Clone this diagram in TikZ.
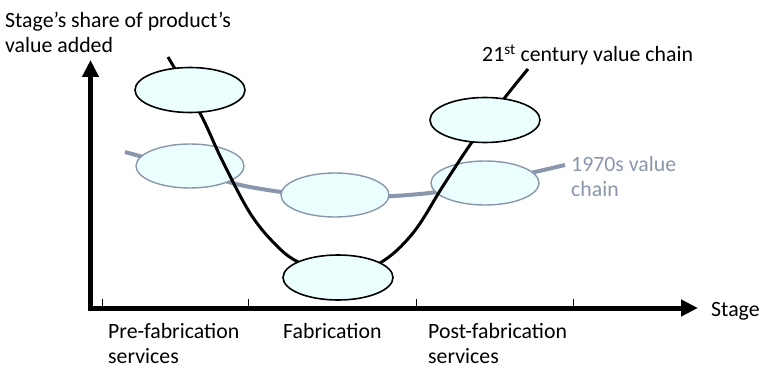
\documentclass[tikz,border=0pt]{standalone}
\usepackage{fontspec}
\setmainfont{Carlito}
\usetikzlibrary{arrows.meta,shapes.geometric}
\definecolor{greyblue}{RGB}{137,150,172}
\definecolor{lightcyan}{RGB}{236,255,255}
\tikzset{
  axis/.style={line width=5pt, line join=miter, {Triangle[length=17pt,width=16pt]}-{Triangle[length=17pt,width=16pt]}},
  tickmark/.style={line width=1pt},
  newell/.style={ellipse, draw=black, line width=1.6pt, fill=lightcyan, minimum width=110pt, minimum height=45pt, inner sep=0pt},
  oldell/.style={ellipse, draw=greyblue, line width=1.4pt, fill=lightcyan, minimum width=108pt, minimum height=44pt, inner sep=0pt},
  newcurve/.style={line width=3pt, black},
  oldcurve/.style={line width=4pt, greyblue},
  lbl/.style={font=\fontsize{21.8}{25}\selectfont, inner sep=0pt, anchor=base west},
}
\begin{document}
\begin{tikzpicture}[x=1pt,y=-1pt]
\useasboundingbox (0,0) rectangle (763,369);
% axes
\coordinate (ytip) at (90.5,60);
\coordinate (corner) at (90.5,308);
\coordinate (xtip) at (698,308);
\draw[axis] (ytip) -- (corner) -- (xtip);
\foreach \x/\n in {102/t1,248/t2,416/t3,573/t4}{
  \coordinate (\n a) at (\x,299);
  \coordinate (\n b) at (\x,306);
  \draw[tickmark] (\n a) -- (\n b);
}
% 1970s chain
\coordinate (os) at (125,152);
\coordinate (oe) at (565,165);
\draw[oldcurve] plot[smooth, tension=0.6] coordinates {(os) (190,170) (250,187) (335,197) (420,194) (485,183) (oe)};
\node[oldell] (g1) at (190,166) {};
\node[oldell] (g2) at (335,195) {};
\node[oldell] (g3) at (485,183) {};
% 21st century chain
\coordinate (ns) at (168,57);
\coordinate (ne) at (528,69);
\draw[newcurve] plot[smooth, tension=0.6] coordinates {(ns) (200,113) (222,160) (250,213) (275,244) (298,262) (338,278) (380,263) (413,233) (443,186) (472,142) (503,100) (ne)};
\node[newell] (e1) at (190,90) {};
\node[newell] (e2) at (338,277.5) {};
\node[newell] (e3) at (485,120) {};
% labels
\node[lbl] (ylab1) at (5,28) {Stage’s share of product’s};
\node[lbl] (ylab2) at (5,53) {value added};
\node[lbl] (newlab) at (482,62) {21\textsuperscript{st} century value chain};
\node[lbl, text=greyblue] (oldlab1) at (571,171) {1970s value};
\node[lbl, text=greyblue] (oldlab2) at (571,196) {chain};
\node[lbl] (xlab) at (711,316) {Stage};
\node[lbl] (s1a) at (108,338) {Pre-fabrication};
\node[lbl] (s1b) at (108,363) {services};
\node[lbl] (s2) at (283,338) {Fabrication};
\node[lbl] (s3a) at (428,338) {Post-fabrication};
\node[lbl] (s3b) at (428,363) {services};
\end{tikzpicture}
\end{document}
